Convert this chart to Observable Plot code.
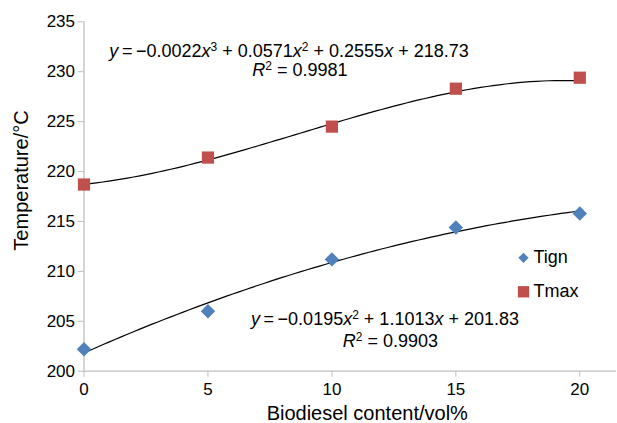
<!DOCTYPE html>
<html>
<head>
<meta charset="utf-8">
<script src="https://cdn.jsdelivr.net/npm/d3@7"></script>
<script src="https://cdn.jsdelivr.net/npm/@observablehq/plot@0.6"></script>
<style>
  body { margin: 0; background: #fff; }
  #chart { width: 617px; height: 423px; }
</style>
</head>
<body>
<div id="chart"></div>
<script>
// Biodiesel content (vol%) and the two characteristic temperatures (°C)
const content = [0, 5, 10, 15, 20];
const tign = [202.2, 206.0, 211.2, 214.4, 215.8];
const tmax = [218.7, 221.4, 224.5, 228.3, 229.4];

// Trend-line coefficients, highest power first
const tmaxFit = [-0.0022, 0.0571, 0.2555, 218.73];
const tignFit = [-0.0195, 1.1013, 201.83];

const xTicks = [0, 5, 10, 15, 20];
const yTicks = [200, 205, 210, 215, 220, 225, 230, 235];

const seriesNames = ["Tign", "Tmax"];
const seriesColors = ["#4F81BD", "#C0504D"];

const font = "'Liberation Sans', Arial, Helvetica, sans-serif";

const polyval = (c, x) => c.reduce((acc, k) => acc * x + k, 0);
const curve = (c) => d3.range(0, 20.0001, 0.25).map(x => ({x, y: polyval(c, x)}));

const tignRows = content.map((x, i) => ({x, y: tign[i]}));
const tmaxRows = content.map((x, i) => ({x, y: tmax[i]}));

const plot = Plot.plot({
  width: 617,
  height: 423,
  marginLeft: 83.5,
  marginRight: 1,
  marginTop: 21.3,
  marginBottom: 52.3,
  style: {fontFamily: font, fontSize: "17px", color: "#000", background: "#fff"},
  x: {domain: [0, 21.48]},
  y: {domain: [200, 235]},
  marks: [
    Plot.ruleY([200], {stroke: "#bfbfbf", strokeWidth: 1.3}),
    Plot.ruleX([0], {stroke: "#bfbfbf", strokeWidth: 1.3}),
    Plot.axisX({ticks: xTicks, tickSize: 6, tickPadding: 6, stroke: "#bfbfbf", fill: "#000", label: null, fontSize: 17}),
    Plot.axisY({ticks: yTicks, tickSize: 6, tickPadding: 3, stroke: "#bfbfbf", fill: "#000", label: null, fontSize: 17}),
    Plot.line(curve(tmaxFit), {x: "x", y: "y", stroke: "#000", strokeWidth: 1.2}),
    Plot.line(curve(tignFit), {x: "x", y: "y", stroke: "#000", strokeWidth: 1.2}),
    Plot.dot(tignRows, {x: "x", y: "y", symbol: "diamond2", r: 6.5, fill: seriesColors[0], stroke: "none"}),
    Plot.dot(tmaxRows, {x: "x", y: "y", symbol: "square", r: 6.9, fill: seriesColors[1], stroke: "none"}),
    // axis titles
    Plot.text(["Biodiesel content/vol%"], {frameAnchor: "bottom", dx: 17, dy: 49, fontSize: 20, textAnchor: "middle", lineAnchor: "bottom"}),
    Plot.text(["Temperature/°C"], {frameAnchor: "left", dx: -62, dy: -16, rotate: -90, fontSize: 20, textAnchor: "middle", lineAnchor: "middle"}),
    // legend
    Plot.dot([seriesNames[0]], {frameAnchor: "top-left", dx: 439.5, dy: 236, symbol: "diamond2", r: 4.6, fill: seriesColors[0], stroke: "none"}),
    Plot.dot([seriesNames[1]], {frameAnchor: "top-left", dx: 439.5, dy: 270, symbol: "square", r: 6.4, fill: seriesColors[1], stroke: "none"}),
    Plot.text([seriesNames[0]], {frameAnchor: "top-left", dx: 449.5, dy: 235, text: d => d, textAnchor: "start", lineAnchor: "middle", fontSize: 18}),
    Plot.text([seriesNames[1]], {frameAnchor: "top-left", dx: 449.5, dy: 269, text: d => d, textAnchor: "start", lineAnchor: "middle", fontSize: 18})
  ]
});

document.getElementById("chart").appendChild(plot);

// Trend-line equations with italic variables and superscript powers
const sx = plot.scale("x"), sy = plot.scale("y");
const svg = d3.select(plot);
const thin = "\u2009";
function equation(parts, x, y) {
  const t = svg.append("text")
    .attr("x", sx.apply(x)).attr("y", sy.apply(y))
    .attr("text-anchor", "middle")
    .attr("font-family", font)
    .attr("font-size", 18)
    .attr("fill", "#000");
  let shifted = false;
  for (const [s, kind] of parts) {
    const span = t.append("tspan").text(s);
    if (kind === "i") span.attr("font-style", "italic");
    if (kind === "sup") {
      span.attr("font-size", 12).attr("dy", -6);
      shifted = true;
    } else if (shifted) {
      span.attr("dy", 6);
      shifted = false;
    }
  }
}

equation([["y", "i"], [thin + "=" + thin + "\u22120.0022"], ["x", "i"], ["3", "sup"], [" + 0.0571"], ["x", "i"], ["2", "sup"], [" + 0.2555"], ["x", "i"], [" + 218.73"]], 8.29, 231.45);
equation([["R", "i"], ["2", "sup"], [" = 0.9981"]], 8.73, 229.5);
equation([["y", "i"], [thin + "=" + thin + "\u22120.0195"], ["x", "i"], ["2", "sup"], [" + 1.1013"], ["x", "i"], [" + 201.83"]], 12.16, 204.57);
equation([["R", "i"], ["2", "sup"], [" = 0.9903"]], 12.38, 202.4);
</script>
</body>
</html>
